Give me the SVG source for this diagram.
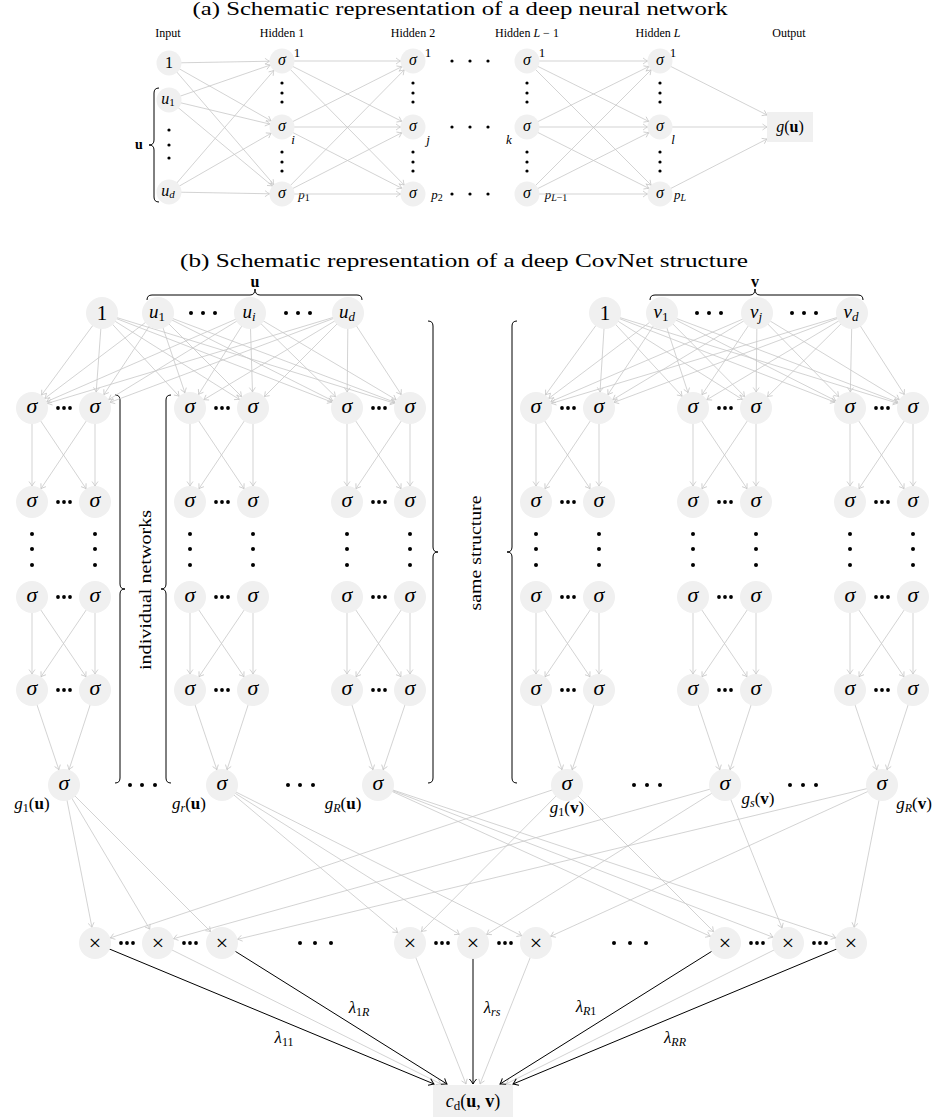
<svg xmlns="http://www.w3.org/2000/svg" width="941" height="1120" viewBox="0 0 941 1120">
<style>
text{font-family:"Liberation Serif","DejaVu Serif",serif;fill:#000}
.i{font-style:italic}
.b{font-weight:bold;font-style:normal}
.m{text-anchor:middle}
.n{fill:#f0f0f0}
.e{stroke:#c8c8c8;stroke-width:.8;fill:none}
.ea{marker-end:url(#mA)}
.eb{marker-end:url(#mB)}
.e0{marker-end:url(#m0)}
.k{stroke:#000;stroke-width:1;fill:none;marker-end:url(#mK)}
.br{stroke:#000;stroke-width:1;fill:none}
.d{fill:#000}
.sa{font-size:16px}
.sb{font-size:22px}
.x{stroke:#333;stroke-width:1}
</style>
<defs>
<marker id="mA" markerUnits="userSpaceOnUse" refX="12.5" refY="0" markerWidth="10" markerHeight="10" orient="auto" overflow="visible"><path d="M-4.5,-3 Q-1.5,-.8 0,0 Q-1.5,.8 -4.5,3" fill="none" stroke="#c8c8c8" stroke-width=".8"/></marker>
<marker id="mB" markerUnits="userSpaceOnUse" refX="16" refY="0" markerWidth="10" markerHeight="10" orient="auto" overflow="visible"><path d="M-4.5,-3 Q-1.5,-.8 0,0 Q-1.5,.8 -4.5,3" fill="none" stroke="#c8c8c8" stroke-width=".8"/></marker>
<marker id="m0" markerUnits="userSpaceOnUse" refX="0" refY="0" markerWidth="10" markerHeight="10" orient="auto" overflow="visible"><path d="M-4.5,-3 Q-1.5,-.8 0,0 Q-1.5,.8 -4.5,3" fill="none" stroke="#c8c8c8" stroke-width=".8"/></marker>
<marker id="mK" markerUnits="userSpaceOnUse" refX="0" refY="0" markerWidth="10" markerHeight="10" orient="auto" overflow="visible"><path d="M-5,-3.5 Q-1.8,-.9 0,0 Q-1.8,.9 -5,3.5" fill="none" stroke="#000" stroke-width="1"/></marker>
</defs>

<!-- ===== Part (a) labels ===== -->
<g id="a-labels">
<text x="460" y="15" class="m" font-size="19" textLength="535" lengthAdjust="spacingAndGlyphs">(a) Schematic representation of a deep neural network</text>
<text x="168" y="37" class="m" font-size="12">Input</text>
<text x="282" y="37" class="m" font-size="12">Hidden 1</text>
<text x="413" y="37" class="m" font-size="12">Hidden 2</text>
<text x="527" y="37" class="m" font-size="12">Hidden <tspan class="i">L</tspan> − 1</text>
<text x="658" y="37" class="m" font-size="12">Hidden <tspan class="i">L</tspan></text>
<text x="789" y="37" class="m" font-size="12">Output</text>
<text x="139" y="149" class="m b" font-size="14">u</text>
<path class="br" d="M159,88 q-5,0 -5,5 L154,140 q0,5 -5,5 q5,0 5,5 L154,197 q0,5 5,5"/>
<text x="297" y="57" class="m" font-size="13">1</text>
<text x="293" y="144" class="m i" font-size="13">i</text>
<text x="304" y="199" class="m" font-size="13"><tspan class="i">p</tspan><tspan font-size="10" dy="2">1</tspan></text>
<text x="428" y="57" class="m" font-size="13">1</text>
<text x="428" y="144" class="m i" font-size="13">j</text>
<text x="437" y="199" class="m" font-size="13"><tspan class="i">p</tspan><tspan font-size="10" dy="2">2</tspan></text>
<text x="542" y="57" class="m" font-size="13">1</text>
<text x="509" y="144" class="m i" font-size="13">k</text>
<text x="556" y="199" class="m" font-size="13"><tspan class="i">p</tspan><tspan font-size="10" dy="2"><tspan class="i">L</tspan>−1</tspan></text>
<text x="673" y="57" class="m" font-size="13">1</text>
<text x="673" y="144" class="m i" font-size="13">l</text>
<text x="680" y="199" class="m" font-size="13"><tspan class="i">p</tspan><tspan font-size="10" dy="2" class="i">L</tspan></text>
</g>
<g id="a-dots">
<circle class="d" cx="169" cy="130" r="1.6"/><circle class="d" cx="169" cy="145" r="1.6"/><circle class="d" cx="169" cy="158" r="1.6"/>
<circle class="d" cx="282" cy="83" r="1.6"/><circle class="d" cx="282" cy="93" r="1.6"/><circle class="d" cx="282" cy="102" r="1.6"/>
<circle class="d" cx="282" cy="152" r="1.6"/><circle class="d" cx="282" cy="162" r="1.6"/><circle class="d" cx="282" cy="171" r="1.6"/>
<circle class="d" cx="413" cy="83" r="1.6"/><circle class="d" cx="413" cy="93" r="1.6"/><circle class="d" cx="413" cy="102" r="1.6"/>
<circle class="d" cx="413" cy="152" r="1.6"/><circle class="d" cx="413" cy="162" r="1.6"/><circle class="d" cx="413" cy="171" r="1.6"/>
<circle class="d" cx="527" cy="83" r="1.6"/><circle class="d" cx="527" cy="93" r="1.6"/><circle class="d" cx="527" cy="102" r="1.6"/>
<circle class="d" cx="527" cy="152" r="1.6"/><circle class="d" cx="527" cy="162" r="1.6"/><circle class="d" cx="527" cy="171" r="1.6"/>
<circle class="d" cx="660" cy="83" r="1.6"/><circle class="d" cx="660" cy="93" r="1.6"/><circle class="d" cx="660" cy="102" r="1.6"/>
<circle class="d" cx="660" cy="152" r="1.6"/><circle class="d" cx="660" cy="162" r="1.6"/><circle class="d" cx="660" cy="171" r="1.6"/>
<circle class="d" cx="452" cy="61" r="1.6"/><circle class="d" cx="470" cy="61" r="1.6"/><circle class="d" cx="488" cy="61" r="1.6"/>
<circle class="d" cx="452" cy="127" r="1.6"/><circle class="d" cx="470" cy="127" r="1.6"/><circle class="d" cx="488" cy="127" r="1.6"/>
<circle class="d" cx="452" cy="194" r="1.6"/><circle class="d" cx="470" cy="194" r="1.6"/><circle class="d" cx="488" cy="194" r="1.6"/>
</g>

<!-- ===== Part (b) labels, braces, dots ===== -->
<g id="b-labels">
<text x="464" y="267" class="m" font-size="19" textLength="568" lengthAdjust="spacingAndGlyphs">(b) Schematic representation of a deep CovNet structure</text>
<text x="255" y="287" class="m b" font-size="16">u</text>
<text x="755" y="287" class="m b" font-size="16">v</text>
<path class="br" d="M147,300 q0,-5 5,-5 L250,295 q5,0 5,-6 q0,6 5,6 L357,295 q5,0 5,5"/>
<path class="br" d="M650,300 q0,-5 5,-5 L750,295 q5,0 5,-6 q0,6 5,6 L858,295 q5,0 5,5"/>
<path class="br" d="M115,395 q5,0 5,5 L120,584 q0,5 5,5 q-5,0 -5,5 L120,778 q0,5 -5,5"/>
<path class="br" d="M171,395 q-5,0 -5,5 L166,584 q0,5 -5,5 q5,0 5,5 L166,778 q0,5 5,5"/>
<path class="br" d="M428,321 q5,0 5,5 L433,547 q0,5 5,5 q-5,0 -5,5 L433,778 q0,5 -5,5"/>
<path class="br" d="M517,321 q-5,0 -5,5 L512,547 q0,5 -5,5 q5,0 5,5 L512,778 q0,5 5,5"/>
<text transform="translate(151,590) rotate(-90)" class="m" font-size="16" textLength="160" lengthAdjust="spacingAndGlyphs">individual networks</text>
<text transform="translate(481,553) rotate(-90)" class="m" font-size="16" textLength="115" lengthAdjust="spacingAndGlyphs">same structure</text>
<text x="32" y="809" class="m" font-size="17"><tspan class="i">g</tspan><tspan font-size="12" dy="3">1</tspan><tspan dy="-3">(</tspan><tspan class="b">u</tspan>)</text>
<text x="189" y="809" class="m" font-size="17"><tspan class="i">g</tspan><tspan font-size="12" dy="3" class="i">r</tspan><tspan dy="-3">(</tspan><tspan class="b">u</tspan>)</text>
<text x="343" y="809" class="m" font-size="17"><tspan class="i">g</tspan><tspan font-size="12" dy="3" class="i">R</tspan><tspan dy="-3">(</tspan><tspan class="b">u</tspan>)</text>
<text x="567" y="813" class="m" font-size="17"><tspan class="i">g</tspan><tspan font-size="12" dy="3">1</tspan><tspan dy="-3">(</tspan><tspan class="b">v</tspan>)</text>
<text x="758" y="804" class="m" font-size="17"><tspan class="i">g</tspan><tspan font-size="12" dy="3" class="i">s</tspan><tspan dy="-3">(</tspan><tspan class="b">v</tspan>)</text>
<text x="914" y="809" class="m" font-size="17"><tspan class="i">g</tspan><tspan font-size="12" dy="3" class="i">R</tspan><tspan dy="-3">(</tspan><tspan class="b">v</tspan>)</text>
<text x="284" y="1043" class="m" font-size="17"><tspan class="i">λ</tspan><tspan font-size="12" dy="3">11</tspan></text>
<text x="359" y="1013" class="m" font-size="17"><tspan class="i">λ</tspan><tspan font-size="12" dy="3">1<tspan class="i">R</tspan></tspan></text>
<text x="492" y="1013" class="m" font-size="17"><tspan class="i">λ</tspan><tspan font-size="12" dy="3" class="i">rs</tspan></text>
<text x="586" y="1012" class="m" font-size="17"><tspan class="i">λ</tspan><tspan font-size="12" dy="3"><tspan class="i">R</tspan>1</tspan></text>
<text x="675" y="1043" class="m" font-size="17"><tspan class="i">λ</tspan><tspan font-size="12" dy="3" class="i">RR</tspan></text>
</g>
<g id="b-dots">
<circle class="d" cx="191" cy="313" r="2"/><circle class="d" cx="203" cy="313" r="2"/><circle class="d" cx="215" cy="313" r="2"/>
<circle class="d" cx="286" cy="313" r="2"/><circle class="d" cx="298" cy="313" r="2"/><circle class="d" cx="310" cy="313" r="2"/>
<circle class="d" cx="697" cy="313" r="2"/><circle class="d" cx="709" cy="313" r="2"/><circle class="d" cx="721" cy="313" r="2"/>
<circle class="d" cx="792" cy="313" r="2"/><circle class="d" cx="804" cy="313" r="2"/><circle class="d" cx="816" cy="313" r="2"/>
<circle class="d" cx="130" cy="785" r="2"/><circle class="d" cx="142" cy="785" r="2"/><circle class="d" cx="155" cy="785" r="2"/>
<circle class="d" cx="288" cy="785" r="2"/><circle class="d" cx="300" cy="785" r="2"/><circle class="d" cx="313" cy="785" r="2"/>
<circle class="d" cx="634" cy="785" r="2"/><circle class="d" cx="647" cy="785" r="2"/><circle class="d" cx="660" cy="785" r="2"/>
<circle class="d" cx="790" cy="785" r="2"/><circle class="d" cx="803" cy="785" r="2"/><circle class="d" cx="816" cy="785" r="2"/>
<circle class="d" cx="300" cy="943" r="2"/><circle class="d" cx="315" cy="943" r="2"/><circle class="d" cx="331" cy="943" r="2"/>
<circle class="d" cx="614" cy="943" r="2"/><circle class="d" cx="630" cy="943" r="2"/><circle class="d" cx="646" cy="943" r="2"/>
<g>
<circle class="d" cx="121" cy="943" r="1.9"/><circle class="d" cx="127" cy="943" r="1.9"/><circle class="d" cx="133" cy="943" r="1.9"/>
<circle class="d" cx="184" cy="943" r="1.9"/><circle class="d" cx="190" cy="943" r="1.9"/><circle class="d" cx="196" cy="943" r="1.9"/>
<circle class="d" cx="436" cy="943" r="1.9"/><circle class="d" cx="442" cy="943" r="1.9"/><circle class="d" cx="448" cy="943" r="1.9"/>
<circle class="d" cx="499" cy="943" r="1.9"/><circle class="d" cx="505" cy="943" r="1.9"/><circle class="d" cx="511" cy="943" r="1.9"/>
<circle class="d" cx="751" cy="943" r="1.9"/><circle class="d" cx="757" cy="943" r="1.9"/><circle class="d" cx="763" cy="943" r="1.9"/>
<circle class="d" cx="814" cy="943" r="1.9"/><circle class="d" cx="820" cy="943" r="1.9"/><circle class="d" cx="826" cy="943" r="1.9"/>
</g>
<g>
<circle class="d" cx="58" cy="408" r="1.9"/><circle class="d" cx="64" cy="408" r="1.9"/><circle class="d" cx="70" cy="408" r="1.9"/>
<circle class="d" cx="216" cy="408" r="1.9"/><circle class="d" cx="222" cy="408" r="1.9"/><circle class="d" cx="228" cy="408" r="1.9"/>
<circle class="d" cx="373" cy="408" r="1.9"/><circle class="d" cx="379" cy="408" r="1.9"/><circle class="d" cx="385" cy="408" r="1.9"/>
<circle class="d" cx="562" cy="408" r="1.9"/><circle class="d" cx="568" cy="408" r="1.9"/><circle class="d" cx="574" cy="408" r="1.9"/>
<circle class="d" cx="719" cy="408" r="1.9"/><circle class="d" cx="725" cy="408" r="1.9"/><circle class="d" cx="731" cy="408" r="1.9"/>
<circle class="d" cx="876" cy="408" r="1.9"/><circle class="d" cx="882" cy="408" r="1.9"/><circle class="d" cx="888" cy="408" r="1.9"/>
<circle class="d" cx="58" cy="502" r="1.9"/><circle class="d" cx="64" cy="502" r="1.9"/><circle class="d" cx="70" cy="502" r="1.9"/>
<circle class="d" cx="216" cy="502" r="1.9"/><circle class="d" cx="222" cy="502" r="1.9"/><circle class="d" cx="228" cy="502" r="1.9"/>
<circle class="d" cx="373" cy="502" r="1.9"/><circle class="d" cx="379" cy="502" r="1.9"/><circle class="d" cx="385" cy="502" r="1.9"/>
<circle class="d" cx="562" cy="502" r="1.9"/><circle class="d" cx="568" cy="502" r="1.9"/><circle class="d" cx="574" cy="502" r="1.9"/>
<circle class="d" cx="719" cy="502" r="1.9"/><circle class="d" cx="725" cy="502" r="1.9"/><circle class="d" cx="731" cy="502" r="1.9"/>
<circle class="d" cx="876" cy="502" r="1.9"/><circle class="d" cx="882" cy="502" r="1.9"/><circle class="d" cx="888" cy="502" r="1.9"/>
<circle class="d" cx="58" cy="597" r="1.9"/><circle class="d" cx="64" cy="597" r="1.9"/><circle class="d" cx="70" cy="597" r="1.9"/>
<circle class="d" cx="216" cy="597" r="1.9"/><circle class="d" cx="222" cy="597" r="1.9"/><circle class="d" cx="228" cy="597" r="1.9"/>
<circle class="d" cx="373" cy="597" r="1.9"/><circle class="d" cx="379" cy="597" r="1.9"/><circle class="d" cx="385" cy="597" r="1.9"/>
<circle class="d" cx="562" cy="597" r="1.9"/><circle class="d" cx="568" cy="597" r="1.9"/><circle class="d" cx="574" cy="597" r="1.9"/>
<circle class="d" cx="719" cy="597" r="1.9"/><circle class="d" cx="725" cy="597" r="1.9"/><circle class="d" cx="731" cy="597" r="1.9"/>
<circle class="d" cx="876" cy="597" r="1.9"/><circle class="d" cx="882" cy="597" r="1.9"/><circle class="d" cx="888" cy="597" r="1.9"/>
<circle class="d" cx="58" cy="690" r="1.9"/><circle class="d" cx="64" cy="690" r="1.9"/><circle class="d" cx="70" cy="690" r="1.9"/>
<circle class="d" cx="216" cy="690" r="1.9"/><circle class="d" cx="222" cy="690" r="1.9"/><circle class="d" cx="228" cy="690" r="1.9"/>
<circle class="d" cx="373" cy="690" r="1.9"/><circle class="d" cx="379" cy="690" r="1.9"/><circle class="d" cx="385" cy="690" r="1.9"/>
<circle class="d" cx="562" cy="690" r="1.9"/><circle class="d" cx="568" cy="690" r="1.9"/><circle class="d" cx="574" cy="690" r="1.9"/>
<circle class="d" cx="719" cy="690" r="1.9"/><circle class="d" cx="725" cy="690" r="1.9"/><circle class="d" cx="731" cy="690" r="1.9"/>
<circle class="d" cx="876" cy="690" r="1.9"/><circle class="d" cx="882" cy="690" r="1.9"/><circle class="d" cx="888" cy="690" r="1.9"/>
</g>
<g>
<circle class="d" cx="32" cy="534" r="2"/><circle class="d" cx="32" cy="549" r="2"/><circle class="d" cx="32" cy="565" r="2"/>
<circle class="d" cx="95" cy="534" r="2"/><circle class="d" cx="95" cy="549" r="2"/><circle class="d" cx="95" cy="565" r="2"/>
<circle class="d" cx="190" cy="534" r="2"/><circle class="d" cx="190" cy="549" r="2"/><circle class="d" cx="190" cy="565" r="2"/>
<circle class="d" cx="253" cy="534" r="2"/><circle class="d" cx="253" cy="549" r="2"/><circle class="d" cx="253" cy="565" r="2"/>
<circle class="d" cx="347" cy="534" r="2"/><circle class="d" cx="347" cy="549" r="2"/><circle class="d" cx="347" cy="565" r="2"/>
<circle class="d" cx="410" cy="534" r="2"/><circle class="d" cx="410" cy="549" r="2"/><circle class="d" cx="410" cy="565" r="2"/>
<circle class="d" cx="536" cy="534" r="2"/><circle class="d" cx="536" cy="549" r="2"/><circle class="d" cx="536" cy="565" r="2"/>
<circle class="d" cx="599" cy="534" r="2"/><circle class="d" cx="599" cy="549" r="2"/><circle class="d" cx="599" cy="565" r="2"/>
<circle class="d" cx="693" cy="534" r="2"/><circle class="d" cx="693" cy="549" r="2"/><circle class="d" cx="693" cy="565" r="2"/>
<circle class="d" cx="756" cy="534" r="2"/><circle class="d" cx="756" cy="549" r="2"/><circle class="d" cx="756" cy="565" r="2"/>
<circle class="d" cx="850" cy="534" r="2"/><circle class="d" cx="850" cy="549" r="2"/><circle class="d" cx="850" cy="565" r="2"/>
<circle class="d" cx="913" cy="534" r="2"/><circle class="d" cx="913" cy="549" r="2"/><circle class="d" cx="913" cy="565" r="2"/>
</g>
</g>

<!-- ===== Connectors ===== -->
<g id="connectors">
<line class="e ea" x1="169" y1="63" x2="282" y2="61"/><line class="e ea" x1="169" y1="63" x2="282" y2="127"/><line class="e ea" x1="169" y1="63" x2="282" y2="194"/>
<line class="e ea" x1="169" y1="100" x2="282" y2="61"/><line class="e ea" x1="169" y1="100" x2="282" y2="127"/><line class="e ea" x1="169" y1="100" x2="282" y2="194"/>
<line class="e ea" x1="169" y1="192" x2="282" y2="61"/><line class="e ea" x1="169" y1="192" x2="282" y2="127"/><line class="e ea" x1="169" y1="192" x2="282" y2="194"/>
<line class="e ea" x1="282" y1="61" x2="413" y2="61"/><line class="e ea" x1="282" y1="61" x2="413" y2="127"/><line class="e ea" x1="282" y1="61" x2="413" y2="194"/>
<line class="e ea" x1="282" y1="127" x2="413" y2="61"/><line class="e ea" x1="282" y1="127" x2="413" y2="127"/><line class="e ea" x1="282" y1="127" x2="413" y2="194"/>
<line class="e ea" x1="282" y1="194" x2="413" y2="61"/><line class="e ea" x1="282" y1="194" x2="413" y2="127"/><line class="e ea" x1="282" y1="194" x2="413" y2="194"/>
<line class="e ea" x1="527" y1="61" x2="660" y2="61"/><line class="e ea" x1="527" y1="61" x2="660" y2="127"/><line class="e ea" x1="527" y1="61" x2="660" y2="194"/>
<line class="e ea" x1="527" y1="127" x2="660" y2="61"/><line class="e ea" x1="527" y1="127" x2="660" y2="127"/><line class="e ea" x1="527" y1="127" x2="660" y2="194"/>
<line class="e ea" x1="527" y1="194" x2="660" y2="61"/><line class="e ea" x1="527" y1="194" x2="660" y2="127"/><line class="e ea" x1="527" y1="194" x2="660" y2="194"/>
<line class="e e0" x1="660" y1="61" x2="767" y2="115"/><line class="e e0" x1="660" y1="127" x2="767" y2="127"/><line class="e e0" x1="660" y1="194" x2="767" y2="139"/>

<line class="e eb" x1="102" y1="313" x2="32" y2="408"/><line class="e eb" x1="102" y1="313" x2="95" y2="408"/><line class="e eb" x1="102" y1="313" x2="190" y2="408"/><line class="e eb" x1="102" y1="313" x2="253" y2="408"/><line class="e eb" x1="102" y1="313" x2="347" y2="408"/><line class="e eb" x1="102" y1="313" x2="410" y2="408"/>
<line class="e eb" x1="158" y1="313" x2="32" y2="408"/><line class="e eb" x1="158" y1="313" x2="95" y2="408"/><line class="e eb" x1="158" y1="313" x2="190" y2="408"/><line class="e eb" x1="158" y1="313" x2="253" y2="408"/><line class="e eb" x1="158" y1="313" x2="347" y2="408"/><line class="e eb" x1="158" y1="313" x2="410" y2="408"/>
<line class="e eb" x1="250" y1="313" x2="32" y2="408"/><line class="e eb" x1="250" y1="313" x2="95" y2="408"/><line class="e eb" x1="250" y1="313" x2="190" y2="408"/><line class="e eb" x1="250" y1="313" x2="253" y2="408"/><line class="e eb" x1="250" y1="313" x2="347" y2="408"/><line class="e eb" x1="250" y1="313" x2="410" y2="408"/>
<line class="e eb" x1="348" y1="313" x2="32" y2="408"/><line class="e eb" x1="348" y1="313" x2="95" y2="408"/><line class="e eb" x1="348" y1="313" x2="190" y2="408"/><line class="e eb" x1="348" y1="313" x2="253" y2="408"/><line class="e eb" x1="348" y1="313" x2="347" y2="408"/><line class="e eb" x1="348" y1="313" x2="410" y2="408"/>
<line class="e eb" x1="605" y1="313" x2="536" y2="408"/><line class="e eb" x1="605" y1="313" x2="599" y2="408"/><line class="e eb" x1="605" y1="313" x2="693" y2="408"/><line class="e eb" x1="605" y1="313" x2="756" y2="408"/><line class="e eb" x1="605" y1="313" x2="850" y2="408"/><line class="e eb" x1="605" y1="313" x2="913" y2="408"/>
<line class="e eb" x1="662" y1="313" x2="536" y2="408"/><line class="e eb" x1="662" y1="313" x2="599" y2="408"/><line class="e eb" x1="662" y1="313" x2="693" y2="408"/><line class="e eb" x1="662" y1="313" x2="756" y2="408"/><line class="e eb" x1="662" y1="313" x2="850" y2="408"/><line class="e eb" x1="662" y1="313" x2="913" y2="408"/>
<line class="e eb" x1="757" y1="313" x2="536" y2="408"/><line class="e eb" x1="757" y1="313" x2="599" y2="408"/><line class="e eb" x1="757" y1="313" x2="693" y2="408"/><line class="e eb" x1="757" y1="313" x2="756" y2="408"/><line class="e eb" x1="757" y1="313" x2="850" y2="408"/><line class="e eb" x1="757" y1="313" x2="913" y2="408"/>
<line class="e eb" x1="852" y1="313" x2="536" y2="408"/><line class="e eb" x1="852" y1="313" x2="599" y2="408"/><line class="e eb" x1="852" y1="313" x2="693" y2="408"/><line class="e eb" x1="852" y1="313" x2="756" y2="408"/><line class="e eb" x1="852" y1="313" x2="850" y2="408"/><line class="e eb" x1="852" y1="313" x2="913" y2="408"/>

<g>
<line class="e eb" x1="32" y1="408" x2="32" y2="502"/><line class="e eb" x1="32" y1="408" x2="95" y2="502"/><line class="e eb" x1="95" y1="408" x2="32" y2="502"/><line class="e eb" x1="95" y1="408" x2="95" y2="502"/>
<line class="e eb" x1="32" y1="597" x2="32" y2="690"/><line class="e eb" x1="32" y1="597" x2="95" y2="690"/><line class="e eb" x1="95" y1="597" x2="32" y2="690"/><line class="e eb" x1="95" y1="597" x2="95" y2="690"/>
<line class="e eb" x1="32" y1="690" x2="64" y2="785"/><line class="e eb" x1="95" y1="690" x2="64" y2="785"/>
<line class="e eb" x1="190" y1="408" x2="190" y2="502"/><line class="e eb" x1="190" y1="408" x2="253" y2="502"/><line class="e eb" x1="253" y1="408" x2="190" y2="502"/><line class="e eb" x1="253" y1="408" x2="253" y2="502"/>
<line class="e eb" x1="190" y1="597" x2="190" y2="690"/><line class="e eb" x1="190" y1="597" x2="253" y2="690"/><line class="e eb" x1="253" y1="597" x2="190" y2="690"/><line class="e eb" x1="253" y1="597" x2="253" y2="690"/>
<line class="e eb" x1="190" y1="690" x2="222" y2="785"/><line class="e eb" x1="253" y1="690" x2="222" y2="785"/>
<line class="e eb" x1="347" y1="408" x2="347" y2="502"/><line class="e eb" x1="347" y1="408" x2="410" y2="502"/><line class="e eb" x1="410" y1="408" x2="347" y2="502"/><line class="e eb" x1="410" y1="408" x2="410" y2="502"/>
<line class="e eb" x1="347" y1="597" x2="347" y2="690"/><line class="e eb" x1="347" y1="597" x2="410" y2="690"/><line class="e eb" x1="410" y1="597" x2="347" y2="690"/><line class="e eb" x1="410" y1="597" x2="410" y2="690"/>
<line class="e eb" x1="347" y1="690" x2="378" y2="785"/><line class="e eb" x1="410" y1="690" x2="378" y2="785"/>
<line class="e eb" x1="536" y1="408" x2="536" y2="502"/><line class="e eb" x1="536" y1="408" x2="599" y2="502"/><line class="e eb" x1="599" y1="408" x2="536" y2="502"/><line class="e eb" x1="599" y1="408" x2="599" y2="502"/>
<line class="e eb" x1="536" y1="597" x2="536" y2="690"/><line class="e eb" x1="536" y1="597" x2="599" y2="690"/><line class="e eb" x1="599" y1="597" x2="536" y2="690"/><line class="e eb" x1="599" y1="597" x2="599" y2="690"/>
<line class="e eb" x1="536" y1="690" x2="567" y2="785"/><line class="e eb" x1="599" y1="690" x2="567" y2="785"/>
<line class="e eb" x1="693" y1="408" x2="693" y2="502"/><line class="e eb" x1="693" y1="408" x2="756" y2="502"/><line class="e eb" x1="756" y1="408" x2="693" y2="502"/><line class="e eb" x1="756" y1="408" x2="756" y2="502"/>
<line class="e eb" x1="693" y1="597" x2="693" y2="690"/><line class="e eb" x1="693" y1="597" x2="756" y2="690"/><line class="e eb" x1="756" y1="597" x2="693" y2="690"/><line class="e eb" x1="756" y1="597" x2="756" y2="690"/>
<line class="e eb" x1="693" y1="690" x2="725" y2="785"/><line class="e eb" x1="756" y1="690" x2="725" y2="785"/>
<line class="e eb" x1="850" y1="408" x2="850" y2="502"/><line class="e eb" x1="850" y1="408" x2="913" y2="502"/><line class="e eb" x1="913" y1="408" x2="850" y2="502"/><line class="e eb" x1="913" y1="408" x2="913" y2="502"/>
<line class="e eb" x1="850" y1="597" x2="850" y2="690"/><line class="e eb" x1="850" y1="597" x2="913" y2="690"/><line class="e eb" x1="913" y1="597" x2="850" y2="690"/><line class="e eb" x1="913" y1="597" x2="913" y2="690"/>
<line class="e eb" x1="850" y1="690" x2="882" y2="785"/><line class="e eb" x1="913" y1="690" x2="882" y2="785"/>
</g>

<line class="e eb" x1="64" y1="785" x2="95" y2="943"/><line class="e eb" x1="64" y1="785" x2="158" y2="943"/><line class="e eb" x1="64" y1="785" x2="222" y2="943"/>
<line class="e eb" x1="222" y1="785" x2="410" y2="943"/><line class="e eb" x1="222" y1="785" x2="473" y2="943"/><line class="e eb" x1="222" y1="785" x2="536" y2="943"/>
<line class="e eb" x1="378" y1="785" x2="725" y2="943"/><line class="e eb" x1="378" y1="785" x2="788" y2="943"/><line class="e eb" x1="378" y1="785" x2="851" y2="943"/>
<line class="e eb" x1="567" y1="785" x2="95" y2="943"/><line class="e eb" x1="567" y1="785" x2="410" y2="943"/><line class="e eb" x1="567" y1="785" x2="725" y2="943"/>
<line class="e eb" x1="725" y1="785" x2="158" y2="943"/><line class="e eb" x1="725" y1="785" x2="473" y2="943"/><line class="e eb" x1="725" y1="785" x2="788" y2="943"/>
<line class="e eb" x1="882" y1="785" x2="222" y2="943"/><line class="e eb" x1="882" y1="785" x2="536" y2="943"/><line class="e eb" x1="882" y1="785" x2="851" y2="943"/>

<line class="e e0" x1="158" y1="943" x2="441" y2="1084"/>
<line class="e e0" x1="410" y1="943" x2="466" y2="1084"/>
<line class="e e0" x1="536" y1="943" x2="480" y2="1084"/>
<line class="e e0" x1="788" y1="943" x2="506" y2="1084"/>
<line class="k" x1="95" y1="943" x2="434" y2="1084"/>
<line class="k" x1="222" y1="943" x2="447" y2="1084"/>
<line class="k" x1="473" y1="943" x2="473" y2="1084"/>
<line class="k" x1="725" y1="943" x2="500" y2="1084"/>
<line class="k" x1="851" y1="943" x2="513" y2="1084"/>
</g>

<!-- ===== Part (a) nodes ===== -->
<g id="a-in-1"><circle class="n" cx="169" cy="63" r="12.5"/><text x="169" y="68" class="m sa">1</text></g>
<g id="a-in-u1"><circle class="n" cx="169" cy="100" r="12.5"/><text x="168" y="104" class="m sa"><tspan class="i">u</tspan><tspan font-size="11" dy="2">1</tspan></text></g>
<g id="a-in-ud"><circle class="n" cx="169" cy="192" r="12.5"/><text x="168" y="196" class="m sa"><tspan class="i">u</tspan><tspan font-size="11" dy="2" class="i">d</tspan></text></g>
<g id="a-h1-1"><circle class="n" cx="282" cy="61" r="12.5"/><text x="282" y="65" class="m i sa">σ</text></g>
<g id="a-h1-i"><circle class="n" cx="282" cy="127" r="12.5"/><text x="282" y="131" class="m i sa">σ</text></g>
<g id="a-h1-p"><circle class="n" cx="282" cy="194" r="12.5"/><text x="282" y="198" class="m i sa">σ</text></g>
<g id="a-h2-1"><circle class="n" cx="413" cy="61" r="12.5"/><text x="413" y="65" class="m i sa">σ</text></g>
<g id="a-h2-j"><circle class="n" cx="413" cy="127" r="12.5"/><text x="413" y="131" class="m i sa">σ</text></g>
<g id="a-h2-p"><circle class="n" cx="413" cy="194" r="12.5"/><text x="413" y="198" class="m i sa">σ</text></g>
<g id="a-hl1-1"><circle class="n" cx="527" cy="61" r="12.5"/><text x="527" y="65" class="m i sa">σ</text></g>
<g id="a-hl1-k"><circle class="n" cx="527" cy="127" r="12.5"/><text x="527" y="131" class="m i sa">σ</text></g>
<g id="a-hl1-p"><circle class="n" cx="527" cy="194" r="12.5"/><text x="527" y="198" class="m i sa">σ</text></g>
<g id="a-hl-1"><circle class="n" cx="660" cy="61" r="12.5"/><text x="660" y="65" class="m i sa">σ</text></g>
<g id="a-hl-l"><circle class="n" cx="660" cy="127" r="12.5"/><text x="660" y="131" class="m i sa">σ</text></g>
<g id="a-hl-p"><circle class="n" cx="660" cy="194" r="12.5"/><text x="660" y="198" class="m i sa">σ</text></g>
<g id="a-out"><rect class="n" x="767" y="112" width="46" height="30"/><text x="790" y="132" class="m sa"><tspan class="i">g</tspan>(<tspan class="b">u</tspan>)</text></g>

<!-- ===== Part (b) input nodes ===== -->
<g id="b-u-one"><circle class="n" cx="102" cy="313" r="16"/><text x="102" y="320" class="m" font-size="21">1</text></g>
<g id="b-u1"><circle class="n" cx="158" cy="313" r="16"/><text x="157" y="318" class="m" font-size="19"><tspan class="i">u</tspan><tspan font-size="13" dy="3">1</tspan></text></g>
<g id="b-ui"><circle class="n" cx="250" cy="313" r="16"/><text x="249" y="318" class="m" font-size="19"><tspan class="i">u</tspan><tspan font-size="13" dy="3" class="i">i</tspan></text></g>
<g id="b-ud"><circle class="n" cx="348" cy="313" r="16"/><text x="347" y="318" class="m" font-size="19"><tspan class="i">u</tspan><tspan font-size="13" dy="3" class="i">d</tspan></text></g>
<g id="b-v-one"><circle class="n" cx="605" cy="313" r="16"/><text x="605" y="320" class="m" font-size="21">1</text></g>
<g id="b-v1"><circle class="n" cx="662" cy="313" r="16"/><text x="661" y="318" class="m" font-size="19"><tspan class="i">v</tspan><tspan font-size="13" dy="3">1</tspan></text></g>
<g id="b-vj"><circle class="n" cx="757" cy="313" r="16"/><text x="756" y="318" class="m" font-size="19"><tspan class="i">v</tspan><tspan font-size="13" dy="3" class="i">j</tspan></text></g>
<g id="b-vd"><circle class="n" cx="852" cy="313" r="16"/><text x="851" y="318" class="m" font-size="19"><tspan class="i">v</tspan><tspan font-size="13" dy="3" class="i">d</tspan></text></g>

<!-- ===== Part (b) sigma nodes ===== -->
<g id="s-32-408"><circle class="n" cx="32" cy="408" r="16"/><text x="32" y="413" class="m i sb">σ</text></g>
<g id="s-95-408"><circle class="n" cx="95" cy="408" r="16"/><text x="95" y="413" class="m i sb">σ</text></g>
<g id="s-190-408"><circle class="n" cx="190" cy="408" r="16"/><text x="190" y="413" class="m i sb">σ</text></g>
<g id="s-253-408"><circle class="n" cx="253" cy="408" r="16"/><text x="253" y="413" class="m i sb">σ</text></g>
<g id="s-347-408"><circle class="n" cx="347" cy="408" r="16"/><text x="347" y="413" class="m i sb">σ</text></g>
<g id="s-410-408"><circle class="n" cx="410" cy="408" r="16"/><text x="410" y="413" class="m i sb">σ</text></g>
<g id="s-536-408"><circle class="n" cx="536" cy="408" r="16"/><text x="536" y="413" class="m i sb">σ</text></g>
<g id="s-599-408"><circle class="n" cx="599" cy="408" r="16"/><text x="599" y="413" class="m i sb">σ</text></g>
<g id="s-693-408"><circle class="n" cx="693" cy="408" r="16"/><text x="693" y="413" class="m i sb">σ</text></g>
<g id="s-756-408"><circle class="n" cx="756" cy="408" r="16"/><text x="756" y="413" class="m i sb">σ</text></g>
<g id="s-850-408"><circle class="n" cx="850" cy="408" r="16"/><text x="850" y="413" class="m i sb">σ</text></g>
<g id="s-913-408"><circle class="n" cx="913" cy="408" r="16"/><text x="913" y="413" class="m i sb">σ</text></g>

<g id="s-32-502"><circle class="n" cx="32" cy="502" r="16"/><text x="32" y="507" class="m i sb">σ</text></g>
<g id="s-95-502"><circle class="n" cx="95" cy="502" r="16"/><text x="95" y="507" class="m i sb">σ</text></g>
<g id="s-190-502"><circle class="n" cx="190" cy="502" r="16"/><text x="190" y="507" class="m i sb">σ</text></g>
<g id="s-253-502"><circle class="n" cx="253" cy="502" r="16"/><text x="253" y="507" class="m i sb">σ</text></g>
<g id="s-347-502"><circle class="n" cx="347" cy="502" r="16"/><text x="347" y="507" class="m i sb">σ</text></g>
<g id="s-410-502"><circle class="n" cx="410" cy="502" r="16"/><text x="410" y="507" class="m i sb">σ</text></g>
<g id="s-536-502"><circle class="n" cx="536" cy="502" r="16"/><text x="536" y="507" class="m i sb">σ</text></g>
<g id="s-599-502"><circle class="n" cx="599" cy="502" r="16"/><text x="599" y="507" class="m i sb">σ</text></g>
<g id="s-693-502"><circle class="n" cx="693" cy="502" r="16"/><text x="693" y="507" class="m i sb">σ</text></g>
<g id="s-756-502"><circle class="n" cx="756" cy="502" r="16"/><text x="756" y="507" class="m i sb">σ</text></g>
<g id="s-850-502"><circle class="n" cx="850" cy="502" r="16"/><text x="850" y="507" class="m i sb">σ</text></g>
<g id="s-913-502"><circle class="n" cx="913" cy="502" r="16"/><text x="913" y="507" class="m i sb">σ</text></g>

<g id="s-32-597"><circle class="n" cx="32" cy="597" r="16"/><text x="32" y="602" class="m i sb">σ</text></g>
<g id="s-95-597"><circle class="n" cx="95" cy="597" r="16"/><text x="95" y="602" class="m i sb">σ</text></g>
<g id="s-190-597"><circle class="n" cx="190" cy="597" r="16"/><text x="190" y="602" class="m i sb">σ</text></g>
<g id="s-253-597"><circle class="n" cx="253" cy="597" r="16"/><text x="253" y="602" class="m i sb">σ</text></g>
<g id="s-347-597"><circle class="n" cx="347" cy="597" r="16"/><text x="347" y="602" class="m i sb">σ</text></g>
<g id="s-410-597"><circle class="n" cx="410" cy="597" r="16"/><text x="410" y="602" class="m i sb">σ</text></g>
<g id="s-536-597"><circle class="n" cx="536" cy="597" r="16"/><text x="536" y="602" class="m i sb">σ</text></g>
<g id="s-599-597"><circle class="n" cx="599" cy="597" r="16"/><text x="599" y="602" class="m i sb">σ</text></g>
<g id="s-693-597"><circle class="n" cx="693" cy="597" r="16"/><text x="693" y="602" class="m i sb">σ</text></g>
<g id="s-756-597"><circle class="n" cx="756" cy="597" r="16"/><text x="756" y="602" class="m i sb">σ</text></g>
<g id="s-850-597"><circle class="n" cx="850" cy="597" r="16"/><text x="850" y="602" class="m i sb">σ</text></g>
<g id="s-913-597"><circle class="n" cx="913" cy="597" r="16"/><text x="913" y="602" class="m i sb">σ</text></g>

<g id="s-32-690"><circle class="n" cx="32" cy="690" r="16"/><text x="32" y="695" class="m i sb">σ</text></g>
<g id="s-95-690"><circle class="n" cx="95" cy="690" r="16"/><text x="95" y="695" class="m i sb">σ</text></g>
<g id="s-190-690"><circle class="n" cx="190" cy="690" r="16"/><text x="190" y="695" class="m i sb">σ</text></g>
<g id="s-253-690"><circle class="n" cx="253" cy="690" r="16"/><text x="253" y="695" class="m i sb">σ</text></g>
<g id="s-347-690"><circle class="n" cx="347" cy="690" r="16"/><text x="347" y="695" class="m i sb">σ</text></g>
<g id="s-410-690"><circle class="n" cx="410" cy="690" r="16"/><text x="410" y="695" class="m i sb">σ</text></g>
<g id="s-536-690"><circle class="n" cx="536" cy="690" r="16"/><text x="536" y="695" class="m i sb">σ</text></g>
<g id="s-599-690"><circle class="n" cx="599" cy="690" r="16"/><text x="599" y="695" class="m i sb">σ</text></g>
<g id="s-693-690"><circle class="n" cx="693" cy="690" r="16"/><text x="693" y="695" class="m i sb">σ</text></g>
<g id="s-756-690"><circle class="n" cx="756" cy="690" r="16"/><text x="756" y="695" class="m i sb">σ</text></g>
<g id="s-850-690"><circle class="n" cx="850" cy="690" r="16"/><text x="850" y="695" class="m i sb">σ</text></g>
<g id="s-913-690"><circle class="n" cx="913" cy="690" r="16"/><text x="913" y="695" class="m i sb">σ</text></g>

<!-- ===== Part (b) g nodes ===== -->
<g id="g1u"><circle class="n" cx="64" cy="785" r="16"/><text x="64" y="790" class="m i sb">σ</text></g>
<g id="gru"><circle class="n" cx="222" cy="785" r="16"/><text x="222" y="790" class="m i sb">σ</text></g>
<g id="gRu"><circle class="n" cx="378" cy="785" r="16"/><text x="378" y="790" class="m i sb">σ</text></g>
<g id="g1v"><circle class="n" cx="567" cy="785" r="16"/><text x="567" y="790" class="m i sb">σ</text></g>
<g id="gsv"><circle class="n" cx="725" cy="785" r="16"/><text x="725" y="790" class="m i sb">σ</text></g>
<g id="gRv"><circle class="n" cx="882" cy="785" r="16"/><text x="882" y="790" class="m i sb">σ</text></g>

<!-- ===== Part (b) product nodes ===== -->
<g id="x11"><circle class="n" cx="95" cy="943" r="16"/><text x="95" y="950" class="m" font-size="22">×</text></g>
<g id="x1s"><circle class="n" cx="158" cy="943" r="16"/><text x="158" y="950" class="m" font-size="22">×</text></g>
<g id="x1R"><circle class="n" cx="222" cy="943" r="16"/><text x="222" y="950" class="m" font-size="22">×</text></g>
<g id="xr1"><circle class="n" cx="410" cy="943" r="16"/><text x="410" y="950" class="m" font-size="22">×</text></g>
<g id="xrs"><circle class="n" cx="473" cy="943" r="16"/><text x="473" y="950" class="m" font-size="22">×</text></g>
<g id="xrR"><circle class="n" cx="536" cy="943" r="16"/><text x="536" y="950" class="m" font-size="22">×</text></g>
<g id="xR1"><circle class="n" cx="725" cy="943" r="16"/><text x="725" y="950" class="m" font-size="22">×</text></g>
<g id="xRs"><circle class="n" cx="788" cy="943" r="16"/><text x="788" y="950" class="m" font-size="22">×</text></g>
<g id="xRR"><circle class="n" cx="851" cy="943" r="16"/><text x="851" y="950" class="m" font-size="22">×</text></g>

<!-- ===== Part (b) output ===== -->
<g id="cd"><rect class="n" x="433" y="1085" width="80" height="32"/><text x="473" y="1107" class="m" font-size="18"><tspan class="i">c</tspan><tspan font-size="13" dy="3">d</tspan><tspan dy="-3">(</tspan><tspan class="b">u</tspan>, <tspan class="b">v</tspan>)</text></g>
</svg>
